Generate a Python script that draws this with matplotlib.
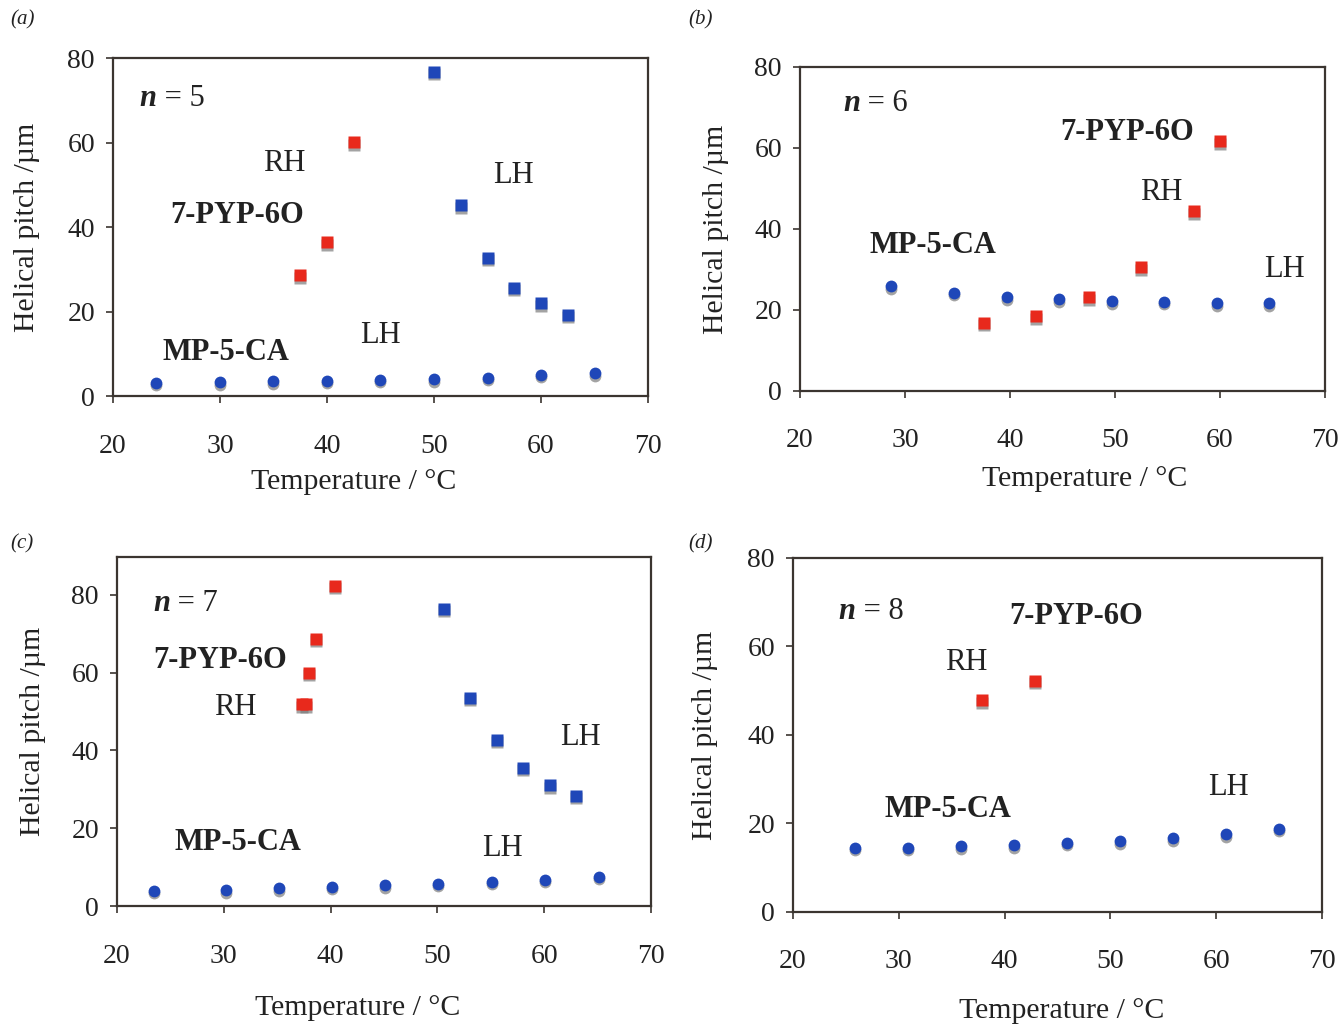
import matplotlib
matplotlib.use("Agg")
import matplotlib.pyplot as plt
from matplotlib.transforms import offset_copy

plt.rcParams["font.family"] = ["Liberation Serif", "DejaVu Serif"]

# ---- data ----
# (a) n = 5
a_mp_x = [24, 30, 35, 40, 45, 50, 55, 60, 65]
a_mp_y = [3.1, 3.3, 3.5, 3.6, 3.9, 4.0, 4.3, 5.0, 5.4]
a_rh_x = [37.5, 40, 42.5]
a_rh_y = [28.6, 36.4, 60.1]
a_lh_x = [50, 52.5, 55, 57.5, 60, 62.5]
a_lh_y = [76.7, 45.2, 32.7, 25.6, 22.0, 19.2]

# (b) n = 6
b_mp_x = [28.7, 34.7, 39.7, 44.7, 49.7, 54.7, 59.7, 64.7]
b_mp_y = [25.9, 24.2, 23.2, 22.7, 22.2, 22.0, 21.7, 21.7]
b_rh_x = [37.5, 42.5, 47.5, 52.5, 57.5, 60]
b_rh_y = [16.8, 18.5, 23.2, 30.6, 44.4, 61.7]
b_lh_x = []
b_lh_y = []

# (c) n = 7
c_mp_x = [23.5, 30.2, 35.2, 40.1, 45.1, 50.1, 55.1, 60.1, 65.1]
c_mp_y = [3.9, 4.1, 4.6, 4.9, 5.4, 5.7, 6.2, 6.7, 7.5]
c_rh_x = [37.3, 37.7, 38.0, 38.6, 40.4]
c_rh_y = [51.8, 51.9, 59.9, 68.7, 82.3]
c_lh_x = [50.6, 53.1, 55.6, 58.0, 60.5, 63.0]
c_lh_y = [76.4, 53.5, 42.7, 35.5, 31.1, 28.3]

# (d) n = 8
d_mp_x = [25.9, 30.9, 35.9, 40.9, 45.9, 50.9, 55.9, 60.9, 65.9]
d_mp_y = [14.5, 14.5, 14.9, 15.1, 15.6, 16.0, 16.7, 17.6, 18.8]
d_rh_x = [37.9, 42.9]
d_rh_y = [47.9, 52.2]
d_lh_x = []
d_lh_y = []

xticks = [20, 30, 40, 50, 60, 70]
yticks = [0, 20, 40, 60, 80]

BLUE = "#1f47b8"
RED = "#e8291c"
FRAME = "#3b3530"
FS = 20
NOTE_FS = 22

panels = [
    {"tag": "(a)", "n": "5", "rect": [0.0843, 0.6144, 0.3993, 0.3291], "ymax": 80,
     "mp": (a_mp_x, a_mp_y), "rh": (a_rh_x, a_rh_y), "lh": (a_lh_x, a_lh_y),
     "tagpos": (0.008, 0.99), "npos": (22.5, 70.5),
     "xlab": (0.449, -0.216), "ylab_x": -0.137,
     "notes": [("RH", 36.0, 55.0, False), ("LH", 57.4, 52.3, False),
               ("7-PYP-6O", 31.6, 42.8, True), ("LH", 45.0, 14.4, False),
               ("MP-5-CA", 30.6, 10.4, True)]},
    {"tag": "(b)", "n": "6", "rect": [0.597, 0.6193, 0.3918, 0.3155], "ymax": 80,
     "mp": (b_mp_x, b_mp_y), "rh": (b_rh_x, b_rh_y), "lh": (b_lh_x, b_lh_y),
     "tagpos": (0.514, 0.99), "npos": (24.1, 71.1),
     "xlab": (0.543, -0.231), "ylab_x": -0.135,
     "notes": [("7-PYP-6O", 51.2, 63.7, True), ("RH", 54.4, 49.1, False),
               ("MP-5-CA", 32.7, 35.8, True), ("LH", 66.1, 29.9, False)]},
    {"tag": "(c)", "n": "7", "rect": [0.0873, 0.1178, 0.3985, 0.3398], "ymax": 89.7,
     "mp": (c_mp_x, c_mp_y), "rh": (c_rh_x, c_rh_y), "lh": (c_lh_x, c_lh_y),
     "tagpos": (0.008, 0.48), "npos": (23.4, 77.7),
     "xlab": (0.451, -0.255), "ylab_x": -0.133,
     "notes": [("7-PYP-6O", 29.7, 63.0, True), ("RH", 31.1, 50.9, False),
               ("LH", 63.4, 43.2, False), ("MP-5-CA", 31.3, 16.2, True),
               ("LH", 56.1, 14.7, False)]},
    {"tag": "(d)", "n": "8", "rect": [0.5918, 0.112, 0.3948, 0.3447], "ymax": 80,
     "mp": (d_mp_x, d_mp_y), "rh": (d_rh_x, d_rh_y), "lh": (d_lh_x, d_lh_y),
     "tagpos": (0.514, 0.48), "npos": (24.3, 67.8),
     "xlab": (0.507, -0.243), "ylab_x": -0.142,
     "notes": [("7-PYP-6O", 46.8, 66.7, True), ("RH", 36.4, 56.3, False),
               ("LH", 61.2, 28.2, False), ("MP-5-CA", 34.6, 23.1, True)]},
]

fig = plt.figure(figsize=(13.4, 10.27), dpi=100)


def plot_pts(ax, xs, ys, marker, color, ms):
    if len(xs) == 0:
        return
    # soft grey shadow just under each marker, like the scanned original
    shadow = offset_copy(ax.transData, fig=fig, x=0, y=-2.5, units="dots")
    ax.plot(xs, ys, ls="none", marker=marker, ms=ms, color="#7d7d7d",
            mec="none", alpha=0.7, transform=shadow, clip_on=False)
    ax.plot(xs, ys, ls="none", marker=marker, ms=ms, color=color,
            mec="none", clip_on=False)


for p in panels:
    ax = fig.add_axes(p["rect"])
    ax.set_xlim(20, 70)
    ax.set_ylim(0, p["ymax"])
    ax.set_xticks(xticks)
    ax.set_yticks(yticks)

    plot_pts(ax, *p["mp"], "o", BLUE, 8.5)
    plot_pts(ax, *p["rh"], "s", RED, 9.3)
    plot_pts(ax, *p["lh"], "s", BLUE, 9.3)

    for s in ax.spines.values():
        s.set_color(FRAME)
        s.set_linewidth(1.6)
    ax.tick_params(axis="both", direction="out", length=5, width=1.2,
                   color=FRAME, labelsize=FS, labelcolor="#222222")
    ax.tick_params(axis="x", pad=22)
    ax.tick_params(axis="y", pad=8)

    ax.set_xlabel("Temperature / °C", fontsize=21.5, color="#222222")
    ax.set_ylabel("Helical pitch /µm", fontsize=21.5, color="#222222")
    ax.xaxis.set_label_coords(*p["xlab"])
    ax.yaxis.set_label_coords(p["ylab_x"], 0.5)

    # n = x label, bold italic n
    t = ax.text(p["npos"][0], p["npos"][1], "n", fontsize=NOTE_FS, fontweight="bold",
                fontstyle="italic", va="center", ha="left", color="#222222")
    ax.annotate(" = " + p["n"], xy=(1, 0.5), xycoords=t, va="center", ha="left",
                fontsize=NOTE_FS, color="#222222")

    for txt, x, y, bold in p["notes"]:
        ax.text(x, y, txt, fontsize=NOTE_FS, ha="center", va="center",
                fontweight="bold" if bold else "normal", color="#222222")

    fig.text(p["tagpos"][0], p["tagpos"][1], p["tag"], fontsize=15,
             fontstyle="italic", ha="left", va="top", color="#222222")

plt.savefig("out.png", dpi=100)
